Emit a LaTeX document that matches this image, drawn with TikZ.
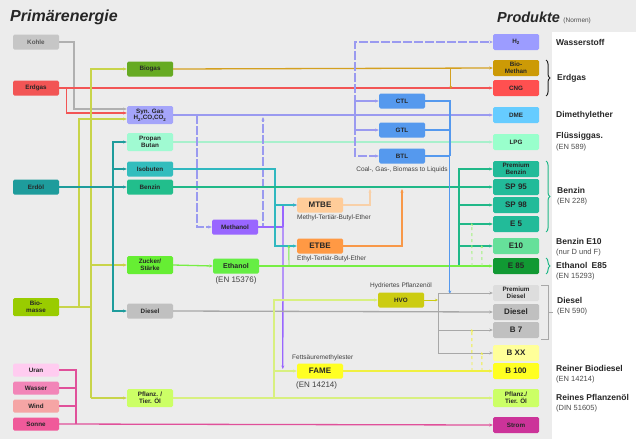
\documentclass[tikz,border=0pt]{standalone}
\usepackage{fontspec}
\setmainfont{Liberation Sans}
\usepackage{tikz}
\usetikzlibrary{
arrows.meta,
positioning,
decorations.pathreplacing,
calc
}
\definecolor{bggray}{HTML}{ECECEC}
\definecolor{cKohle}{HTML}{C6C6C6}
\definecolor{cErdgas}{HTML}{F25555}
\definecolor{cErdoel}{HTML}{1E9C9C}
\definecolor{cBio}{HTML}{99CC00}
\definecolor{cUran}{HTML}{FFCCF0}
\definecolor{cWasser}{HTML}{F285B8}
\definecolor{cWind}{HTML}{F5A5A5}
\definecolor{cSonne}{HTML}{F05A9A}
\definecolor{cBiogas}{HTML}{66AA22}
\definecolor{cSyn}{HTML}{A5A5FA}
\definecolor{cPropan}{HTML}{A0FAD2}
\definecolor{cIso}{HTML}{33BDBD}
\definecolor{cBenzin}{HTML}{22BE8C}
\definecolor{cZucker}{HTML}{66EE33}
\definecolor{cDiesel}{HTML}{C0C0C0}
\definecolor{cPflanz}{HTML}{CCFF66}
\definecolor{cMeth}{HTML}{9966FF}
\definecolor{cEth}{HTML}{66EE44}
\definecolor{cMTBE}{HTML}{FFCC99}
\definecolor{cETBE}{HTML}{FF9944}
\definecolor{cHVO}{HTML}{CCCC11}
\definecolor{cFAME}{HTML}{FFFF22}
\definecolor{cXTL}{HTML}{5599EE}
\definecolor{cH2}{HTML}{9C9CFF}
\definecolor{cMethan}{HTML}{CC9A06}
\definecolor{cCNG}{HTML}{FF5050}
\definecolor{cDME}{HTML}{66CCFF}
\definecolor{cLPG}{HTML}{99FFCC}
\definecolor{cSuper}{HTML}{22BB99}
\definecolor{cEten}{HTML}{66E09A}
\definecolor{cEacht}{HTML}{119933}
\definecolor{cPremD}{HTML}{DDDDDD}
\definecolor{cBxx}{HTML}{FFFF99}
\definecolor{cStrom}{HTML}{CC3399}
%% line colours
\definecolor{lKohle}{HTML}{B0B0B0}
\definecolor{lBio}{HTML}{C8D44A}
\definecolor{lGold}{HTML}{D4A020}
\definecolor{lSyn}{HTML}{9A9AF0}
\definecolor{lPropan}{HTML}{A8F0CC}
\definecolor{lIso}{HTML}{30B8C0}
\definecolor{lBenzin}{HTML}{20B888}
\definecolor{lEth}{HTML}{77EE44}
\definecolor{lDiesel}{HTML}{A8A8A8}
\definecolor{lPflanz}{HTML}{D8F080}
\definecolor{lMTBE}{HTML}{F8D0A8}
\definecolor{lETBE}{HTML}{F89848}
\definecolor{lFAME}{HTML}{F0F040}
\definecolor{lStrom}{HTML}{E0509A}

\begin{document}
\begin{tikzpicture}[x=1pt, y=-1pt,
  box/.style={rounded corners=1.5pt, minimum width=46pt, minimum height=15pt,
              inner sep=0pt, align=center, text=black!85,
              font=\fontsize{6.3}{6.6}\selectfont\bfseries},
  tall/.style={minimum height=18pt},
  prod/.style={box, minimum height=16pt},
  big/.style={font=\fontsize{8}{8}\selectfont\bfseries},
  wire/.style={line width=1.3pt},
  arrow/.style={wire, -{Stealth[length=3.5pt, width=3pt]}},
  fine/.style={line width=0.9pt, -{Stealth[length=3pt, width=2.5pt]}},
  note/.style={font=\fontsize{6.5}{7}\selectfont, inner sep=0pt, text=black!75},
  normnote/.style={note, font=\fontsize{8}{8}\selectfont},
  prodlbl/.style={font=\fontsize{8.5}{9}\selectfont\bfseries, anchor=west, inner sep=0pt, text=black!85},
  normlbl/.style={font=\fontsize{7.5}{8}\selectfont, anchor=west, inner sep=0pt, text=black!70},
  brace/.style={decorate, decoration={brace, amplitude=4pt}, line width=1pt}
]
%% background
\fill[bggray] (0,0) rectangle (636,439);
\fill[white] (552,32) rectangle (636,439);
\useasboundingbox (0,0) rectangle (636,439);

%% Titles
\node[font=\fontsize{16}{16}\selectfont\bfseries\itshape, anchor=west, inner sep=0pt,
      text=black!85] (ttlprim) at (10,17) {Primärenergie};
\node[font=\fontsize{14.5}{14.5}\selectfont\bfseries\itshape, anchor=west, inner sep=0pt,
      text=black!85] (ttlprod) at (497,17) {Produkte};
\node[font=\fontsize{6.5}{6.5}\selectfont, anchor=base west, inner sep=0pt, text=black!70]
      (ttlnorm) at ($(ttlprod.base east)+(3,0)$) {(Normen)};

%% Primary energy
\node[box, fill=cKohle, text=black!65] (kohle) at (36,42) {Kohle};
\node[box, fill=cErdgas] (erdgas) at (36,88) {Erdgas};
\node[box, fill=cErdoel] (erdoel) at (36,187) {Erdöl};
\node[box, tall, fill=cBio] (biomasse) at (36,307) {Bio-\\masse};
\node[box, minimum height=13pt, fill=cUran] (uran) at (36,370) {Uran};
\node[box, minimum height=13pt, fill=cWasser] (wasser) at (36,388) {Wasser};
\node[box, minimum height=13pt, fill=cWind] (wind) at (36,406) {Wind};
\node[box, minimum height=13pt, fill=cSonne] (sonne) at (36,424) {Sonne};

%% Intermediate carriers
\node[box, fill=cBiogas] (biogas) at (150,69) {Biogas};
\node[box, tall, fill=cSyn] (syngas) at (150,115) {Syn. Gas\\H\textsubscript{2},CO,CO\textsubscript{2}};
\node[box, tall, fill=cPropan] (propan) at (150,142) {Propan\\Butan};
\node[box, fill=cIso] (isobut) at (150,169) {Isobuten};
\node[box, fill=cBenzin] (benzin) at (150,187) {Benzin};
\node[box, tall, fill=cZucker] (zucker) at (150,265) {Zucker/\\Stärke};
\node[box, fill=cDiesel] (diesel) at (150,311) {Diesel};
\node[box, tall, fill=cPflanz] (pflanz) at (150,398) {Pflanz. /\\Tier. Öl};

%% Conversion
\node[box, fill=cMeth] (methanol) at (235,227) {Methanol};
\node[box, font=\fontsize{7}{7}\selectfont\bfseries, fill=cEth] (ethanol) at (236,266) {Ethanol};
\node[normnote, below=3pt of ethanol] (ethnorm) {(EN 15376)};
\node[box, big, fill=cMTBE] (mtbe) at (320,205) {MTBE};
\node[note, anchor=north west] (mtbenote) at (297,215) {Methyl-Tertiär-Butyl-Ether};
\node[box, big, fill=cETBE] (etbe) at (320,246) {ETBE};
\node[note, anchor=north west] (etbenote) at (297,256) {Ethyl-Tertiär-Butyl-Ether};
\node[box, fill=cHVO] (hvo) at (401,300) {HVO};
\node[note, above=3pt of hvo] (hvonote) {Hydriertes Pflanzenöl};
\node[box, big, fill=cFAME] (fame) at (320,371) {FAME};
\node[note, anchor=south west] (famenote) at (292,361) {Fettsäuremethylester};
\node[normnote, anchor=north west] (famenorm) at (296,381) {(EN 14214)};
\node[box, fill=cXTL] (ctl) at (402,101) {CTL};
\node[box, fill=cXTL] (gtl) at (402,130) {GTL};
\node[box, fill=cXTL] (btl) at (402,156) {BTL};
\node[note, below=3pt of btl] (xtlnote) {Coal-, Gas-, Biomass to Liquids};

%% Products
\node[prod, fill=cH2] (h2) at (516,42) {H\textsubscript{2}};
\node[prod, fill=cMethan] (biomethan) at (516,68) {Bio-\\Methan};
\node[prod, fill=cCNG] (cng) at (516,88) {CNG};
\node[prod, fill=cDME] (dme) at (516,115) {DME};
\node[prod, fill=cLPG] (lpg) at (516,142) {LPG};
\node[prod, fill=cSuper] (premb) at (516,169) {Premium\\Benzin};
\node[prod, big, fill=cSuper] (sp95) at (516,187) {SP 95};
\node[prod, big, fill=cSuper] (sp98) at (516,205) {SP 98};
\node[prod, big, fill=cSuper] (efive) at (516,224) {E 5};
\node[prod, big, fill=cEten] (eten) at (516,246) {E10};
\node[prod, big, fill=cEacht] (e85) at (516,266) {E 85};
\node[prod, fill=cPremD] (premd) at (516,293) {Premium\\Diesel};
\node[prod, big, fill=cDiesel] (pdiesel) at (516,312) {Diesel};
\node[prod, big, fill=cDiesel] (bseven) at (516,330) {B 7};
\node[prod, big, fill=cBxx] (bxx) at (516,353) {B XX};
\node[prod, big, fill=cFAME] (bhundred) at (516,371) {B 100};
\node[prod, tall, fill=cPflanz] (ppflanz) at (516,398) {Pflanz./\\Tier. Öl};
\node[prod, fill=cStrom] (strom) at (516,425) {Strom};

%% Product names and standards
\node[prodlbl] (lblh2) at (556,42) {Wasserstoff};
\node[prodlbl] (lblgas) at (557,78) {Erdgas};
\node[prodlbl] (lbldme) at (556,115) {Dimethylether};
\node[prodlbl] (lbllpg) at (556,136) {Flüssiggas.};
\node[normlbl] (nrmlpg) at (556,148) {(EN 589)};
\node[prodlbl] (lblbenz) at (557,190) {Benzin};
\node[normlbl] (nrmbenz) at (557,202) {(EN 228)};
\node[prodlbl] (lbleten) at (556,241) {Benzin E10};
\node[normlbl] (nrmeten) at (556,253) {(nur D und F)};
\node[prodlbl] (lble85) at (556,265) {Ethanol\enspace E85};
\node[normlbl] (nrme85) at (556,277) {(EN 15293)};
\node[prodlbl] (lbldies) at (557,300) {Diesel};
\node[normlbl] (nrmdies) at (557,312) {(EN 590)};
\node[prodlbl] (lblbio) at (556,368) {Reiner Biodiesel};
\node[normlbl] (nrmbio) at (556,380) {(EN 14214)};
\node[prodlbl] (lbloel) at (556,397) {Reines Pflanzenöl};
\node[normlbl] (nrmoel) at (556,409) {(DIN 51605)};

%% Braces
\draw[brace, black!85] (546,60) -- (546,96);
\draw[brace, lBenzin] (546,161) -- (546,232);
\draw[brace, lBenzin] (546,258) -- (546,274);
\draw[lDiesel, line width=0.7pt] (541,285) -- (548,285) -- (548,339) -- (541,339)
  (548,312) -- (553,312);

%% Kohle, Erdgas, Biomasse into synthesis gas
\draw[arrow, lKohle] (kohle.east) -| (74,109) -- ([yshift=6pt]syngas.west);
\draw[arrow, cErdgas] (erdgas.east) -- (cng.west);
\draw[arrow, cErdgas] (erdgas.east) ++(7,0) |- ([yshift=2pt]syngas.west);
\draw[wire, lBio] (biomasse.east) -- (91,307);
\draw[arrow, lBio] (79,307) |- ([yshift=-4pt]syngas.west);
\draw[arrow, lBio] (91,398) |- (biogas.west);
\draw[arrow, lBio] (91,398) -- (pflanz.west);
\draw[arrow, lBio] (91,265) -- (zucker.west);

%% Erdoel
\draw[arrow, cErdoel] (erdoel.east) -- (benzin.west);
\draw[arrow, cErdoel] (113,187) |- (propan.west);
\draw[arrow, cErdoel] (113,187) |- (isobut.west);
\draw[arrow, cErdoel] (113,187) |- (diesel.west);

%% Sun, wind, water, uranium
\draw[arrow, lStrom] (sonne.east) -- (strom.west);
\draw[wire, lStrom] (uran.east) -| (76,424);
\draw[wire, lStrom] (wasser.east) -- (76,388);
\draw[wire, lStrom] (wind.east) -- (76,406);

%% Biogas
\draw[arrow, lGold] (biogas.east) -- (biomethan.west);
\draw[fine, lGold] ($(biomethan.west)+(-42,0)$) -- ($(cng.west)+(-42,1)$);

%% Synthesis gas, Propan
\draw[arrow, lSyn] (syngas.east) -- (dme.west);
\draw[arrow, lPropan] (propan.east) -- (lpg.west);
\draw[arrow, lSyn, dash pattern=on 9pt off 2pt] (355,115) |- (h2.west);
\draw[arrow, lSyn] (355,115) |- (ctl.west);
\draw[arrow, lSyn] (355,115) |- (gtl.west);
\draw[arrow, lSyn, dash pattern=on 9pt off 2pt] (355,115) |- (btl.west);
\draw[arrow, lSyn, dash pattern=on 9pt off 2pt] (197,115) |- (methanol.west);
\draw[arrow, lSyn, dash pattern=on 9pt off 2pt] (methanol.east) -| (263,117);

%% Methanol
\draw[wire, cMeth] (methanol.east) -- (283,227);
\draw[arrow, cMeth] (283,227) |- (mtbe.west);
\draw[arrow, cMeth] (283,227) -- ($(fame.west)+(-14,-2)$);

%% Isobuten
\draw[arrow, lIso] (isobut.east) -| (275,240) |- (etbe.west);
\draw[arrow, lIso] (275,205) -- (mtbe.west);

%% Benzin
\draw[arrow, lBenzin] (benzin.east) -- (sp95.west);
\draw[arrow, lBenzin] (459,187) |- (premb.west);
\draw[arrow, lBenzin] (459,187) |- (sp98.west);
\draw[arrow, lBenzin] (459,187) |- (efive.west);
\draw[arrow, lBenzin] (459,187) |- (eten.west);
\draw[wire, lBenzin] (459,187) -- (459,266);

%% MTBE, ETBE
\draw[arrow, lMTBE] (mtbe.east) -| (370,189);
\draw[arrow, lETBE] (etbe.east) -| (402,189);

%% Zucker and Ethanol
\draw[arrow, lEth] (zucker.east) -- (ethanol.west);
\draw[arrow, lEth] (ethanol.east) -- (e85.west);
\draw[fine, lEth] (289,266) -- ($(etbe.west)+(-8,-1)$);
\draw[fine, lEth!70, dashed] (472,266) -- ($(efive.west)+(-21,-1)$);
\draw[fine, lEth!70, dashed] (482,266) -- ($(eten.west)+(-11,-1)$);

%% CTL, GTL, BTL
\draw[wire, cXTL] (ctl.east) -| (450,156);
\draw[wire, cXTL] (gtl.east) -- (450,130);
\draw[arrow, cXTL] (btl.east) -| ($(premd.west)+(-43,1)$);

%% Diesel
\draw[arrow, lDiesel] (diesel.east) -- (pdiesel.west);
\draw[wire, lDiesel, line width=1pt] (438,293) -- (438,353);
\draw[arrow, lDiesel, line width=1pt] (438,300) |- (premd.west);
\draw[arrow, lDiesel, line width=1pt] (438,312) |- (bseven.west);
\draw[arrow, lDiesel, line width=1pt] (438,312) |- (bxx.west);

%% Pflanzenoel, HVO, FAME
\draw[arrow, lPflanz] (pflanz.east) -- (ppflanz.west);
\draw[arrow, lPflanz] (274,398) |- (hvo.west);
\draw[arrow, lPflanz] (274,398) |- (fame.west);
\draw[fine, cHVO] (hvo.east) -- (438,300);
\draw[arrow, lFAME] (fame.east) -- (bhundred.west);
\draw[fine, lFAME, dashed] (472,371) -- ($(bseven.west)+(-21,-1)$);
\draw[fine, lFAME, dashed] (482,371) -- ($(bxx.west)+(-11,-1)$);

\end{tikzpicture}
\end{document}
